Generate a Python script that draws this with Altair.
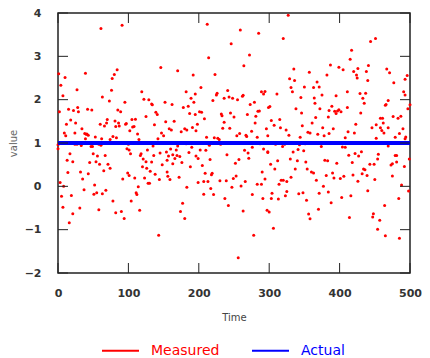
import altair as alt
import pandas as pd

# ---- data ----
measured_t = [
    # t 0-100, above line
    61, 91, 1, 10, 39, 84, 80, 77, 4, 27, 76, 7, 63, 73, 95, 2, 15, 22, 28, 29, 42, 48, 85, 89,
    18, 12, 25, 60, 66, 70, 69, 81, 86, 82, 87, 96, 97, 34, 24, 9, 38, 40, 41, 43, 11, 53, 62, 74, 83, 39, 78,
    # t 100-200, above line
    146, 170, 192, 119, 182, 195, 122, 129, 133, 134, 152, 162, 189, 193, 178, 185, 139, 141, 125, 105,
    110, 187, 195, 153, 165, 137, 108, 106, 102, 158, 161, 175, 180, 183, 191, 196, 113, 147, 150, 142, 115,
    # t 200-300, above line
    212, 259, 285, 246, 214, 272, 264, 223, 203, 226, 225, 241, 243, 248, 255, 262, 263, 236, 220, 289,
    292, 294, 279, 273, 201, 204, 232, 233, 245, 250, 269, 281, 284, 286, 208, 198, 236, 280, 244, 234,
    275, 296, 254, 258, 267, 268, 211, 222, 227, 229, 283, 298,
    # t 300-400, above line
    327, 320, 335, 357, 387, 382, 329, 336, 368, 331, 333, 350, 363, 371, 311, 375, 345, 395, 364, 365,
    301, 299, 338, 346, 372, 385, 389, 393, 395, 397, 399, 384, 366, 303, 307, 315, 316, 324, 361, 347,
    376, 328, 355, 358, 369, 378, 385, 391, 344,
    # t 400-500, above line
    444, 451, 417, 415, 399, 405, 426, 420, 424, 425, 441, 438, 440, 467, 471, 496, 493, 477, 411, 429,
    437, 433, 435, 469, 466, 465, 491, 493, 497, 500, 402, 411, 430, 458, 461, 462, 476, 483, 487, 423,
    446, 452, 458, 460, 463, 469, 485, 490, 412, 421, 408, 452, 479, 494, 493,
    # t 0-100, below line
    24, 27, 33, 0, 0, 47, 49, 58, 61, 93, 98, 17, 50, 56, 67, 13, 21, 45, 54, 59, 71, 74, 65, 14, 32,
    43, 99, 3, 8, 35, 52, 92, 37, 51, 55, 63, 68, 5, 19, 78, 7, 31, 58, 21, 82, 90, 94, 16,
    # t 100-200, below line
    100, 101, 135, 127, 160, 168, 170, 182, 190, 103, 117, 118, 145, 154, 157, 163, 166, 169, 173, 186,
    196, 121, 125, 133, 136, 148, 155, 163, 176, 120, 126, 131, 138, 155, 156, 159, 172, 188, 101, 109,
    123, 128, 130, 144, 199, 114, 183, 111, 112, 104, 177, 116, 174, 180, 143,
    # t 200-300, below line
    215, 231, 236, 276, 287, 199, 202, 210, 216, 240, 265, 270, 271, 292, 298, 257, 252, 205, 209, 218,
    219, 290, 207, 213, 230, 239, 249, 253, 266, 283, 289, 294, 217, 247, 260, 207, 221, 276, 237, 291,
    242, 263, 297, 300, 278, 256,
    # t 300-400, below line
    309, 319, 322, 343, 351, 374, 298, 334, 341, 349, 302, 312, 308, 330, 340, 352, 354, 360, 363, 379,
    383, 396, 381, 390, 392, 401, 337, 331, 317, 320, 314, 325, 367, 377, 371, 384, 325, 323, 304, 303,
    313, 342, 348, 353, 388, 370, 356, 358, 306,
    # t 400-500, below line
    404, 408, 469, 479, 413, 422, 427, 431, 455, 479, 481, 499, 418, 443, 449, 454, 473, 475, 481, 492,
    434, 436, 432, 439, 419, 406, 426, 450, 475, 488, 498, 440, 484, 416, 403, 464, 448, 447, 457, 414,
    454, 465, 485,
]
measured_v = [
    3.64, 3.72, 2.6, 2.51, 2.61, 2.69, 2.58, 2.49, 2.33, 2.23, 2.22, 2.09, 2.06, 1.97, 1.94, 1.72, 1.78, 1.75, 1.82, 1.72, 1.78, 1.76, 1.76, 1.72,
    1.53, 1.43, 1.46, 1.43, 1.39, 1.54, 1.46, 1.51, 1.46, 1.38, 1.39, 1.43, 1.45, 1.33, 1.23, 1.23, 1.22, 1.2, 1.21, 1.18, 1.17, 1.14, 1.1, 1.08, 1.12, 1.1, 1.15,
    2.74, 2.67, 2.57, 2.18, 2.18, 2.13, 2.01, 2.0, 1.9, 1.88, 1.94, 1.89, 2.03, 1.94, 1.82, 1.85, 1.71, 1.66, 1.61, 1.54,
    1.55, 1.68, 1.66, 1.49, 1.5, 1.42, 1.38, 1.37, 1.28, 1.33, 1.3, 1.26, 1.33, 1.3, 1.36, 1.28, 1.21, 1.23, 1.17, 1.1, 1.08,
    3.74, 3.61, 3.53, 3.29, 2.97, 3.03, 2.78, 2.58, 2.28, 2.15, 2.11, 2.21, 2.06, 2.03, 2.0, 2.08, 2.1, 2.03, 1.98, 2.18,
    2.13, 2.19, 1.94, 1.89, 1.72, 1.71, 1.67, 1.63, 1.69, 1.6, 1.66, 1.62, 1.73, 1.74, 1.56, 1.43, 1.48, 1.46, 1.34, 1.34,
    1.27, 1.33, 1.17, 1.22, 1.18, 1.15, 1.13, 1.12, 1.11, 1.08, 1.13, 1.17,
    3.95, 3.41, 2.71, 2.63, 2.8, 2.57, 2.48, 2.44, 2.41, 2.28, 2.18, 2.29, 2.28, 2.29, 2.13, 2.11, 2.05, 2.09, 2.04, 1.92,
    1.84, 1.82, 1.79, 1.69, 1.79, 1.75, 1.85, 1.73, 1.68, 1.74, 1.77, 1.6, 1.59, 1.52, 1.41, 1.54, 1.35, 1.3, 1.46, 1.4,
    1.35, 1.18, 1.25, 1.23, 1.2, 1.17, 1.22, 1.33, 1.13,
    3.34, 3.41, 3.14, 2.93, 2.75, 2.69, 2.72, 2.65, 2.57, 2.5, 2.79, 2.65, 2.44, 2.71, 2.62, 2.56, 2.47, 2.39, 2.18, 2.14,
    2.15, 2.03, 1.92, 1.98, 1.89, 1.87, 2.18, 2.11, 1.79, 1.88, 1.72, 1.82, 1.69, 1.57, 1.57, 1.46, 1.61, 1.57, 1.62, 1.43,
    1.35, 1.42, 1.35, 1.29, 1.23, 1.35, 1.22, 1.33, 1.26, 1.23, 1.12, 1.11, 1.13, 1.14, 1.1,
    0.97, 0.97, 0.94, 0.96, 0.87, 0.92, 0.92, 0.97, 0.95, 0.99, 0.87, 0.75, 0.75, 0.7, 0.71, 0.6, 0.57, 0.55, 0.57, 0.51, 0.51, 0.42, 0.36, 0.32, 0.33,
    0.29, 0.31, 0.09, 0.0, 0.17, 0.03, 0.17, -0.08, -0.18, -0.15, -0.17, -0.09, -0.23, -0.21, -0.34, -0.48, -0.5, -0.54, -0.63, -0.61, -0.58, -0.74, -0.84,
    0.97, 0.84, 0.93, 0.84, 0.86, 0.84, 0.93, 0.98, 0.9, 0.75, 0.71, 0.75, 0.77, 0.79, 0.7, 0.73, 0.64, 0.71, 0.69, 0.78,
    0.7, 0.63, 0.57, 0.56, 0.71, 0.5, 0.6, 0.52, 0.55, 0.45, 0.42, 0.35, 0.28, 0.33, 0.23, 0.16, 0.21, 0.45, 0.25, 0.19,
    0.19, 0.07, 0.07, 0.16, 0.09, -0.01, -0.02, -0.15, -0.19, -0.34, -0.39, -0.55, -0.58, -0.74, -1.13,
    0.95, 0.97, 0.99, 0.9, 0.98, 0.64, 0.84, 0.83, 0.62, 0.73, 0.83, 0.77, 0.65, 0.86, 0.8, 0.62, 0.53, 0.48, 0.3, 0.27,
    0.3, 0.33, 0.11, 0.11, 0.13, 0.13, 0.18, 0.24, 0.11, 0.05, 0.05, 0.17, -0.05, -0.02, 0.01, -0.18, -0.19, -0.19, -0.28, -0.28,
    -0.44, -0.57, -0.55, -0.59, -1.13, -1.65,
    0.97, 0.92, 0.97, 0.96, 0.98, 0.92, 0.78, 0.79, 0.85, 0.82, 0.51, 0.59, 0.4, 0.63, 0.59, 0.56, 0.4, 0.33, 0.31, 0.6,
    0.59, 0.53, 0.25, 0.31, 0.19, 0.18, 0.4, 0.21, 0.14, 0.14, 0.05, 0.11, 0.14, 0.0, -0.16, -0.13, -0.12, -0.22, -0.16, -0.28,
    -0.29, -0.17, -0.15, -0.32, -0.38, -0.53, -0.64, -0.75, -0.97,
    0.91, 0.9, 0.93, 1.0, 0.72, 0.76, 0.7, 0.8, 0.74, 0.71, 0.71, 0.63, 0.55, 0.51, 0.51, 0.63, 0.49, 0.52, 0.56, 0.46,
    0.4, 0.38, 0.29, 0.25, 0.26, 0.23, 0.12, 0.16, 0.24, 0.03, -0.11, -0.1, -0.28, -0.22, -0.26, -0.44, -0.63, -0.71, -0.78, -0.72,
    -0.99, -1.14, -1.2,
]
actual_t = [0, 500]
actual_v = [1, 1]
series_names = ["Measured", "Actual"]
series_colors = ["#ff0000", "#0000ff"]
x_ticks = [0, 100, 200, 300, 400, 500]
y_ticks = [-2, -1, 0, 1, 2, 3, 4]

n = min(len(measured_t), len(measured_v))
meas = pd.DataFrame({"Time": measured_t[:n], "value": measured_v[:n], "series": series_names[0]})
act = pd.DataFrame({"Time": actual_t, "value": actual_v, "series": series_names[1]})
xt = pd.DataFrame({"Time": x_ticks})
yt = pd.DataFrame({"value": y_ticks})

W, H = 352, 260
TL = 10
FONT = "DejaVu Sans"

xscale = alt.Scale(domain=[0, 500], nice=False, zero=False)
yscale = alt.Scale(domain=[-2, 4], nice=False, zero=False)

xaxis = alt.Axis(values=x_ticks, ticks=False, domain=False, grid=False, labelPadding=14,
                 labelFont=FONT, labelFontSize=11, labelColor="#333", labelFontWeight="bold",
                 labelFlush=False, title="Time", titleFont=FONT, titleFontSize=10,
                 titleFontWeight="normal", titleColor="#444", titlePadding=14)
yaxis = alt.Axis(values=y_ticks, ticks=False, domain=False, grid=False, labelPadding=17,
                 labelFont=FONT, labelFontSize=11, labelColor="#333", labelFontWeight="bold",
                 labelFlush=False, title="value", titleFont=FONT, titleFontSize=10,
                 titleFontWeight="normal", titleColor="#666", titlePadding=6)

leg = alt.Legend(orient="none", legendX=43, legendY=318, direction="horizontal", title=None,
                 symbolType="stroke", symbolSize=1369, symbolStrokeWidth=2,
                 symbolStrokeColor={"expr": "datum.value == 'Measured' ? '#ff0000' : '#0000ff'"},
                 labelColor={"expr": "datum.value == 'Measured' ? '#ff0000' : '#0000ff'"},
                 labelFont=FONT, labelFontSize=14, labelOffset=11, columnPadding=28)
color = alt.Color("series:N", scale=alt.Scale(domain=series_names, range=series_colors), legend=leg)

points = alt.Chart(meas).mark_circle(size=9, opacity=1).encode(
    x=alt.X("Time:Q", scale=xscale, axis=xaxis),
    y=alt.Y("value:Q", scale=yscale, axis=yaxis),
    color=color,
)
line = alt.Chart(act).mark_line(strokeWidth=4).encode(
    x=alt.X("Time:Q", scale=xscale),
    y=alt.Y("value:Q", scale=yscale),
    color=color,
)
tick_col = "#222"
bottom_ticks = alt.Chart(xt).mark_rule(color=tick_col, strokeWidth=1).encode(
    x=alt.X("Time:Q", scale=xscale), y=alt.value(H - TL), y2=alt.value(H))
top_ticks = alt.Chart(xt).mark_rule(color=tick_col, strokeWidth=1).encode(
    x=alt.X("Time:Q", scale=xscale), y=alt.value(0), y2=alt.value(TL))
left_ticks = alt.Chart(yt).mark_rule(color=tick_col, strokeWidth=1).encode(
    y=alt.Y("value:Q", scale=yscale), x=alt.value(0), x2=alt.value(TL))
right_ticks = alt.Chart(yt).mark_rule(color=tick_col, strokeWidth=1).encode(
    y=alt.Y("value:Q", scale=yscale), x=alt.value(W - TL), x2=alt.value(W))

chart = alt.layer(points, line, bottom_ticks, top_ticks, left_ticks, right_ticks).properties(
    width=W, height=H, autosize=alt.AutoSizeParams(type="none"),
    padding={"left": 50, "top": 5, "right": 12, "bottom": 85},
    background="white",
).configure_view(stroke="#222", strokeWidth=1.5)

chart.save("out.html", embed_options={"renderer": "svg", "actions": False})
